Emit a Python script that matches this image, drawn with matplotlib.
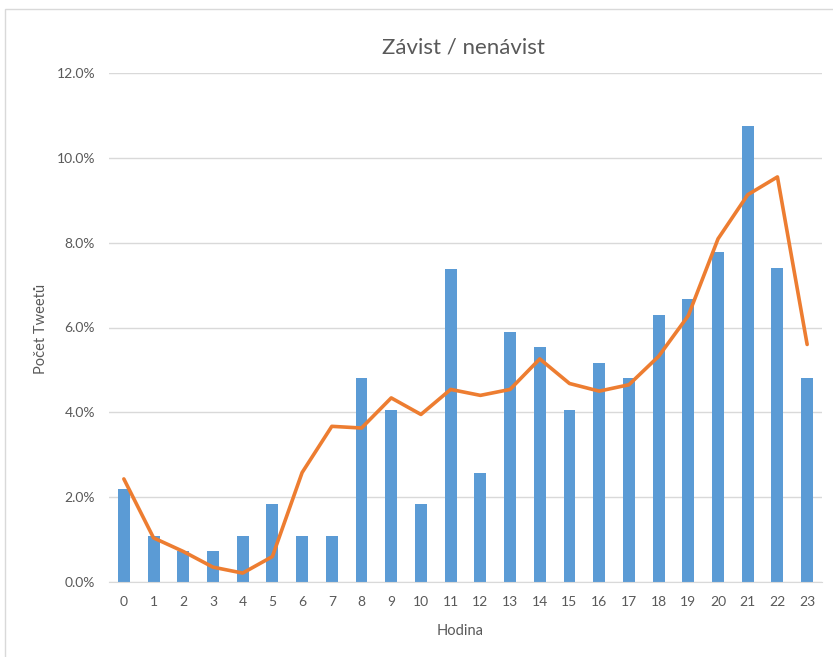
import matplotlib.pyplot as plt
from matplotlib.patches import Rectangle
from matplotlib.ticker import FuncFormatter

hours = list(range(24))
bar_values = [2.20, 1.09, 0.72, 0.73, 1.09, 1.83, 1.09, 1.09, 4.81, 4.06, 1.83, 7.39,
              2.58, 5.90, 5.53, 4.06, 5.17, 4.80, 6.30, 6.67, 7.77, 10.75, 7.41, 4.80]
line_values = [2.43, 1.04, 0.72, 0.35, 0.21, 0.60, 2.58, 3.67, 3.63, 4.34, 3.95, 4.54,
               4.40, 4.54, 5.26, 4.68, 4.50, 4.65, 5.32, 6.28, 8.09, 9.13, 9.55, 5.60]

plt.rcParams['font.family'] = ['Lato', 'DejaVu Sans']
text_color = '#595959'

fig = plt.figure(figsize=(8.33, 6.57), dpi=100)
# outer chart frame (runs off the right and bottom edge)
fig.patches.append(Rectangle((5 / 833, -0.05), 1.2, 1 - 9 / 657 + 0.05,
                             transform=fig.transFigure, fill=False,
                             edgecolor='#D9D9D9', linewidth=1))

ax = fig.add_axes([109 / 833, 1 - 582 / 657, (822 - 109) / 833, (582 - 73) / 657])
ax.bar(hours, bar_values, width=0.4, color='#5B9BD5', zorder=2)
ax.plot(hours, line_values, color='#ED7D31', linewidth=2.6, zorder=3,
        solid_joinstyle='round', solid_capstyle='round')

ax.set_xlim(-0.5, 23.5)
ax.set_ylim(0, 12)
ax.set_yticks([0, 2, 4, 6, 8, 10, 12])
ax.yaxis.set_major_formatter(FuncFormatter(lambda v, p: f'{v:.1f}%'))
ax.set_xticks(hours)
ax.grid(axis='y', color='#D9D9D9', linewidth=1, zorder=0)
for side in ['top', 'right', 'left']:
    ax.spines[side].set_visible(False)
ax.spines['bottom'].set_color('#D9D9D9')
ax.tick_params(axis='both', length=0, colors=text_color, labelsize=10)
ax.tick_params(axis='y', pad=10)
ax.tick_params(axis='x', pad=10)

fig.text(463 / 833, 1 - 48 / 657, 'Závist / nenávist', fontsize=16,
         color=text_color, ha='center', va='center')
ax.set_xlabel('Hodina', fontsize=10.5, color=text_color)
ax.xaxis.set_label_coords(0.492, -0.096)
ax.xaxis.label.set_va('center')
ax.set_ylabel('Počet Tweetů', fontsize=10.5, color=text_color)
ax.yaxis.set_label_coords(-0.0954, 0.497)
ax.yaxis.label.set_va('center')

fig.savefig('out.png', dpi=100)
